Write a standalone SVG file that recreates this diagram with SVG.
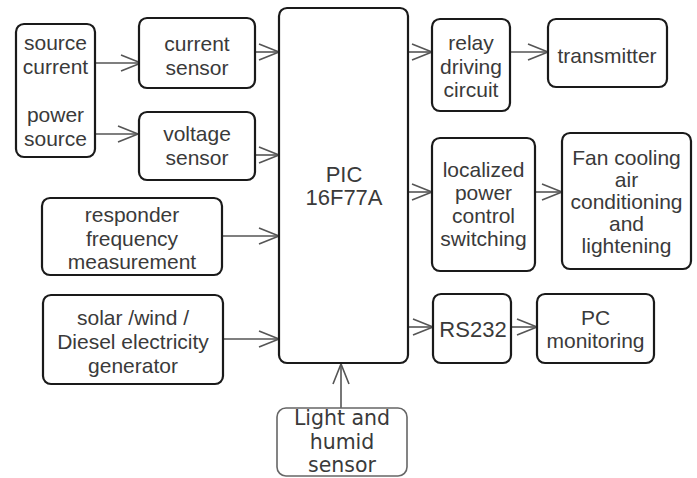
<svg xmlns="http://www.w3.org/2000/svg" width="697" height="478" viewBox="0 0 697 478">
<defs>
<style>
.box{fill:#fff;stroke:#1a1a1a;stroke-width:2.2}
.lbox{fill:#fff;stroke:#666;stroke-width:1.6}
.t{font-family:"Liberation Sans",Arial,sans-serif;font-size:21px;fill:#3a3a3a;text-anchor:middle}
.tp{font-family:"Liberation Sans",Arial,sans-serif;font-size:22px;fill:#3a3a3a;text-anchor:middle}
.td{font-family:"DejaVu Sans",Verdana,sans-serif;font-size:20.5px;fill:#3a3a3a;text-anchor:middle}
.c{stroke:#555;stroke-width:1.6;fill:none}
</style>
<marker id="ah" markerUnits="userSpaceOnUse" markerWidth="24" markerHeight="20" viewBox="0 0 24 20" refX="21" refY="10" orient="auto" overflow="visible">
<path d="M1,2 L21,10 L1,18" fill="none" stroke="#555" stroke-width="1.6"/>
</marker>
</defs>
<rect width="697" height="478" fill="#fff"/>

<g id="connectors">
<line class="c" x1="95" y1="63" x2="141" y2="63" marker-end="url(#ah)"/>
<line class="c" x1="95" y1="134" x2="138" y2="134" marker-end="url(#ah)"/>
<line class="c" x1="255" y1="52" x2="279" y2="52" marker-end="url(#ah)"/>
<line class="c" x1="255" y1="155" x2="279" y2="155" marker-end="url(#ah)"/>
<line class="c" x1="222" y1="236" x2="279" y2="236" marker-end="url(#ah)"/>
<line class="c" x1="223" y1="339" x2="279" y2="339" marker-end="url(#ah)"/>
<line class="c" x1="408" y1="52" x2="432" y2="52" marker-end="url(#ah)"/>
<line class="c" x1="510" y1="52" x2="548" y2="52" marker-end="url(#ah)"/>
<line class="c" x1="408" y1="192" x2="432" y2="192" marker-end="url(#ah)"/>
<line class="c" x1="535" y1="192" x2="562" y2="192" marker-end="url(#ah)"/>
<line class="c" x1="408" y1="327" x2="433" y2="327" marker-end="url(#ah)"/>
<line class="c" x1="511" y1="327" x2="537" y2="327" marker-end="url(#ah)"/>
<line class="c" x1="341" y1="408" x2="341" y2="364" marker-end="url(#ah)"/>
</g>

<g id="source">
<rect class="box" x="16" y="24" width="79" height="133" rx="8"/>
<text class="t" x="55.5" y="50">source</text>
<text class="t" x="55.5" y="74">current</text>
<text class="t" x="55.5" y="122">power</text>
<text class="t" x="55.5" y="146">source</text>
</g>

<g id="current-sensor">
<rect class="box" x="139" y="18" width="116" height="70" rx="8"/>
<text class="t" x="197" y="51">current</text>
<text class="t" x="197" y="75">sensor</text>
</g>

<g id="voltage-sensor">
<rect class="box" x="139" y="112" width="116" height="68" rx="8"/>
<text class="t" x="197" y="141">voltage</text>
<text class="t" x="197" y="165">sensor</text>
</g>

<g id="responder">
<rect class="box" x="42" y="198" width="180" height="77" rx="8"/>
<text class="t" x="132" y="222">responder</text>
<text class="t" x="132" y="246">frequency</text>
<text class="t" x="132" y="269">measurement</text>
</g>

<g id="generator">
<rect class="box" x="43" y="295" width="180" height="89" rx="8"/>
<text class="t" x="133" y="325">solar /wind /</text>
<text class="t" x="133" y="349">Diesel electricity</text>
<text class="t" x="133" y="373">generator</text>
</g>

<g id="pic">
<rect class="box" x="279" y="8" width="129" height="355" rx="8"/>
<text class="tp" x="344" y="182">PIC</text>
<text class="tp" x="344" y="205">16F77A</text>
</g>

<g id="relay">
<rect class="box" x="432" y="19" width="78" height="92" rx="8"/>
<text class="t" x="471" y="50">relay</text>
<text class="t" x="471" y="74">driving</text>
<text class="t" x="471" y="97">circuit</text>
</g>

<g id="transmitter">
<rect class="box" x="548" y="19" width="119" height="68" rx="8"/>
<text class="t" x="607" y="63">transmitter</text>
</g>

<g id="localized">
<rect class="box" x="432" y="138" width="103" height="133" rx="8"/>
<text class="t" x="483.5" y="177">localized</text>
<text class="t" x="483.5" y="200">power</text>
<text class="t" x="483.5" y="223">control</text>
<text class="t" x="483.5" y="246">switching</text>
</g>

<g id="fan">
<rect class="box" x="562" y="133" width="129" height="136" rx="8"/>
<text class="t" x="626.5" y="165">Fan cooling</text>
<text class="t" x="626.5" y="187">air</text>
<text class="t" x="626.5" y="209">conditioning</text>
<text class="t" x="626.5" y="231">and</text>
<text class="t" x="626.5" y="253">lightening</text>
</g>

<g id="rs232">
<rect class="box" x="433" y="294" width="78" height="69" rx="8"/>
<text class="tp" x="473" y="337">RS232</text>
</g>

<g id="pc">
<rect class="box" x="537" y="294" width="117" height="69" rx="8"/>
<text class="t" x="595.5" y="325">PC</text>
<text class="t" x="595.5" y="348">monitoring</text>
</g>

<g id="light">
<rect class="lbox" x="277" y="408" width="130" height="68" rx="9"/>
<text class="td" x="342" y="425">Light and</text>
<text class="td" x="342" y="449">humid</text>
<text class="td" x="342" y="472">sensor</text>
</g>
</svg>
